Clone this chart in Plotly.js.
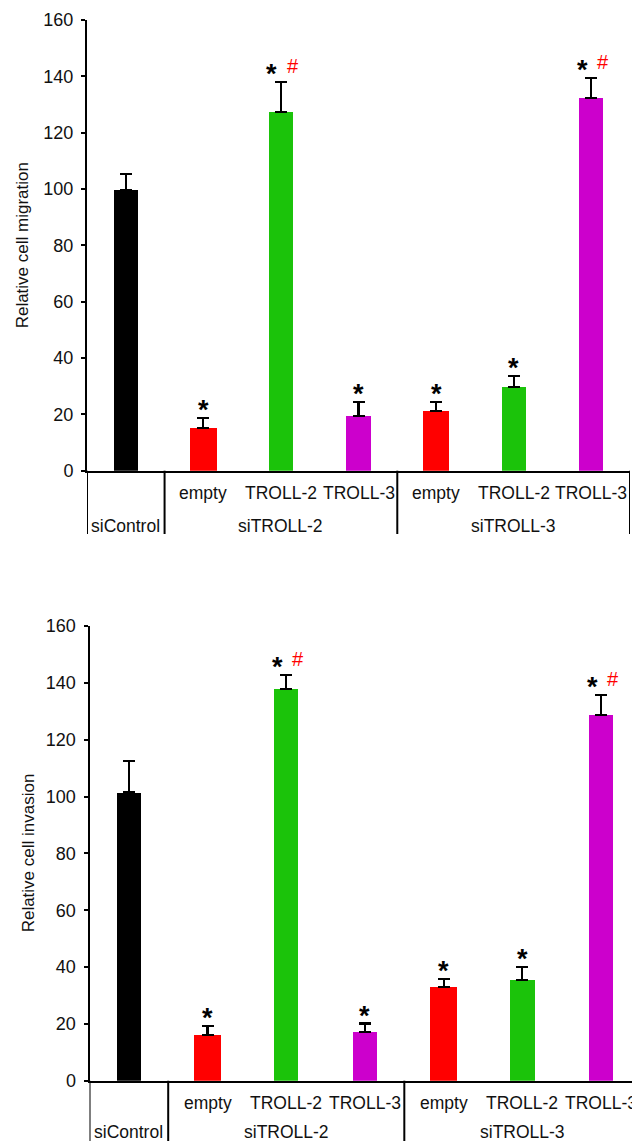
<!DOCTYPE html>
<html>
<head>
<meta charset="utf-8">
<script src="https://cdn.plot.ly/plotly-3.0.1.min.js"></script>
<style>html,body{margin:0;padding:0;background:#fff;}#chart{width:632px;height:1141px;}</style>
</head>
<body>
<div id="chart"></div>
<script>
// ---- data ----
const groups = ['siControl', 'siTROLL-2', 'siTROLL-2', 'siTROLL-2', 'siTROLL-3', 'siTROLL-3', 'siTROLL-3'];
const subLabels = ['', 'empty', 'TROLL-2', 'TROLL-3', 'empty', 'TROLL-2', 'TROLL-3'];
const migration = [99.5, 15.3, 127.3, 19.5, 21.3, 29.7, 132.2];
const migrationErr = [5.7, 3.3, 10.6, 4.8, 3.0, 3.9, 7.2];
const invasion = [101.4, 16.1, 137.9, 17.2, 33.0, 35.4, 128.8];
const invasionErr = [11.1, 3.2, 4.8, 2.9, 2.9, 4.7, 6.8];
const starFlags = [0, 1, 1, 1, 1, 1, 1];
const hashFlags = [0, 0, 1, 0, 0, 0, 1];
const yTicks = [0, 20, 40, 60, 80, 100, 120, 140, 160];
const yTitles = ['Relative cell migration', 'Relative cell invasion'];

// ---- style ----
const FONT = 'Liberation Sans, Arial, sans-serif';
const barColors = ['#000000', '#ff0000', '#1bc30a', '#cc00cc', '#ff0000', '#1bc30a', '#cc00cc'];
const barWidths = [0.31, 0.34, 0.31, 0.31, 0.34, 0.31, 0.31];
const W = 632, H = 1141;
const idx = groups.map((g, i) => i);

// pixel geometry of the two panels
const panels = [
  {x0: 87, x1: 630, xr: [-0.5, 6.5], yTop: 20, yZero: 470.7, labBottom: 534, lvl1: 493, lvl2: 526, vals: migration, errs: migrationErr, title: yTitles[0], titleX: 22},
  {x0: 89.5, x1: 632, xr: [-0.5, 6.393], yTop: 626, yZero: 1080.7, labBottom: 1141, lvl1: 1103, lvl2: 1132, vals: invasion, errs: invasionErr, title: yTitles[1], titleX: 28}
];

const data = [];
const layout = {
  width: W, height: H,
  margin: {l: 0, r: 0, t: 0, b: 0},
  paper_bgcolor: '#ffffff', plot_bgcolor: '#ffffff',
  showlegend: false,
  font: {family: FONT, color: '#000', size: 16},
  bargap: 0,
  annotations: [], shapes: []
};

const py = p => (H - p) / H;

panels.forEach((p, k) => {
  const xa = k === 0 ? 'x' : 'x2', ya = k === 0 ? 'y' : 'y2';
  const xk = k === 0 ? 'xaxis' : 'xaxis2', yk = k === 0 ? 'yaxis' : 'yaxis2';
  data.push({
    type: 'bar', x: idx, y: p.vals, xaxis: xa, yaxis: ya,
    width: barWidths,
    marker: {color: barColors, line: {width: 0}},
    error_y: {type: 'data', symmetric: false, array: p.errs, arrayminus: p.errs.map(() => 0),
              color: '#000', thickness: 2.2, width: 6},
    hoverinfo: 'none'
  });
  layout[xk] = {
    domain: [p.x0 / W, Math.min(1, p.x1 / W)], range: p.xr, anchor: ya,
    showticklabels: false, ticks: '', showgrid: false, zeroline: false,
    showline: true, linecolor: '#000', linewidth: 2, fixedrange: true
  };
  layout[yk] = {
    domain: [py(p.yZero), py(p.yTop)], range: [0, 160], anchor: xa,
    tickvals: yTicks, ticktext: yTicks.map(String),
    ticks: 'outside', ticklen: 4, tickwidth: 2, tickcolor: '#000',
    ticklabelstandoff: 4,
    tickfont: {family: FONT, size: 18, color: '#111'},
    showgrid: false, zeroline: false, showline: true, linecolor: '#000', linewidth: 2,
    fixedrange: true
  };
  // y title
  layout.annotations.push({
    xref: 'paper', yref: 'paper', x: p.titleX / W, y: py((p.yTop + p.yZero) / 2),
    text: p.title, textangle: -90, showarrow: false, xanchor: 'center', yanchor: 'middle',
    font: {family: FONT, size: 17, color: '#111'}
  });
  // significance marks
  idx.forEach(i => {
    const top = p.vals[i] + p.errs[i];
    if (starFlags[i]) {
      layout.annotations.push({
        xref: xa, yref: ya, x: i, y: top, text: '<b>*</b>', showarrow: false,
        xanchor: 'center', yanchor: 'middle', yshift: 8, xshift: hashFlags[i] ? -9 : 0,
        font: {family: FONT, size: 27, color: '#000'}
      });
    }
    if (hashFlags[i]) {
      layout.annotations.push({
        xref: xa, yref: ya, x: i, y: top, text: '#', showarrow: false,
        xanchor: 'center', yanchor: 'middle', yshift: 16, xshift: 12,
        font: {family: FONT, size: 20, color: '#ff0000'}
      });
    }
  });
  // level-1 labels
  idx.forEach(i => {
    if (subLabels[i]) {
      layout.annotations.push({
        xref: xa, yref: 'paper', x: i, y: py(p.lvl1), text: subLabels[i], showarrow: false,
        xanchor: 'center', yanchor: 'middle', font: {family: FONT, size: 17.5, color: '#111'}
      });
    }
  });
  // level-2 labels and separators
  const uniq = [...new Set(groups)];
  uniq.forEach(g => {
    const members = idx.filter(i => groups[i] === g);
    const c = members.reduce((a, b) => a + b, 0) / members.length;
    layout.annotations.push({
      xref: xa, yref: 'paper', x: c, y: py(p.lvl2), text: g, showarrow: false,
      xanchor: 'center', yanchor: 'middle', font: {family: FONT, size: 17.5, color: '#111'}
    });
  });
  const seps = [-0.5];
  for (let i = 1; i < groups.length; i++) if (groups[i] !== groups[i - 1]) seps.push(i - 0.5);
  seps.push(groups.length - 0.5);
  seps.forEach(s => {
    layout.shapes.push({
      type: 'line', xref: xa, yref: 'paper', x0: s, x1: s, y0: py(p.yZero), y1: py(p.labBottom),
      line: {color: '#000', width: 2}
    });
  });
});

Plotly.newPlot('chart', data, layout, {displayModeBar: false, staticPlot: true});
</script>
</body>
</html>
